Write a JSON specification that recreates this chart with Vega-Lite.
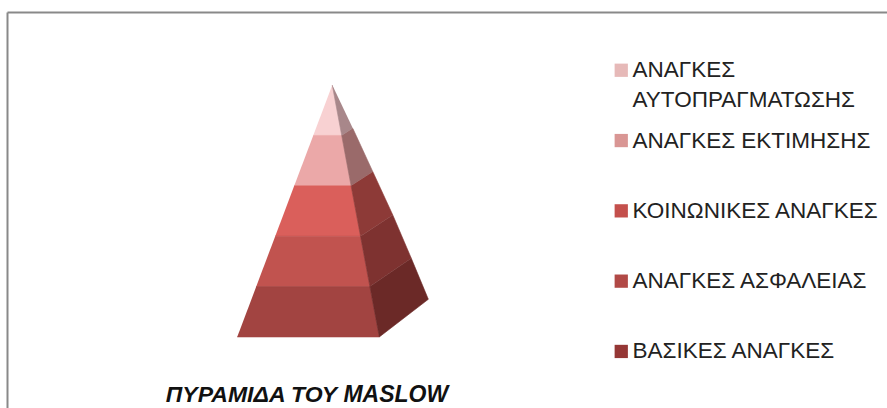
{
  "$schema": "https://vega.github.io/schema/vega-lite/v6.json",
  "width": 880,
  "height": 396,
  "autosize": {"type": "none"},
  "padding": {"left": 7, "top": 12, "right": 0, "bottom": 0},
  "background": "white",
  "config": {"view": {"stroke": null}},
  "title": {
    "text": "ΠΥΡΑΜΙΔΑ ΤΟΥ MASLOW",
    "orient": "bottom",
    "anchor": "middle",
    "dx": -140,
    "offset": -6,
    "baseline": "alphabetic",
    "font": "Liberation Sans",
    "fontSize": 23,
    "fontWeight": "bold",
    "fontStyle": "italic",
    "color": "#111111"
  },
  "datasets": {
    "shape": [
      {"need": "ΑΝΑΓΚΕΣ ΑΥΤΟΠΡΑΓΜΑΤΩΣΗΣ", "part": "F5", "i": 0, "u": 0, "v": 5},
      {"need": "ΑΝΑΓΚΕΣ ΑΥΤΟΠΡΑΓΜΑΤΩΣΗΣ", "part": "F5", "i": 1, "u": 0.187, "v": 4},
      {"need": "ΑΝΑΓΚΕΣ ΑΥΤΟΠΡΑΓΜΑΤΩΣΗΣ", "part": "F5", "i": 2, "u": -0.377, "v": 4},
      {"need": "ΑΝΑΓΚΕΣ ΕΚΤΙΜΗΣΗΣ", "part": "F4", "i": 0, "u": -0.377, "v": 4},
      {"need": "ΑΝΑΓΚΕΣ ΕΚΤΙΜΗΣΗΣ", "part": "F4", "i": 1, "u": 0.187, "v": 4},
      {"need": "ΑΝΑΓΚΕΣ ΕΚΤΙΜΗΣΗΣ", "part": "F4", "i": 2, "u": 0.373, "v": 3},
      {"need": "ΑΝΑΓΚΕΣ ΕΚΤΙΜΗΣΗΣ", "part": "F4", "i": 3, "u": -0.754, "v": 3},
      {"need": "ΚΟΙΝΩΝΙΚΕΣ ΑΝΑΓΚΕΣ", "part": "F3", "i": 0, "u": -0.754, "v": 3},
      {"need": "ΚΟΙΝΩΝΙΚΕΣ ΑΝΑΓΚΕΣ", "part": "F3", "i": 1, "u": 0.373, "v": 3},
      {"need": "ΚΟΙΝΩΝΙΚΕΣ ΑΝΑΓΚΕΣ", "part": "F3", "i": 2, "u": 0.56, "v": 2},
      {"need": "ΚΟΙΝΩΝΙΚΕΣ ΑΝΑΓΚΕΣ", "part": "F3", "i": 3, "u": -1.131, "v": 2},
      {"need": "ΑΝΑΓΚΕΣ ΑΣΦΑΛΕΙΑΣ", "part": "F2", "i": 0, "u": -1.131, "v": 2},
      {"need": "ΑΝΑΓΚΕΣ ΑΣΦΑΛΕΙΑΣ", "part": "F2", "i": 1, "u": 0.56, "v": 2},
      {"need": "ΑΝΑΓΚΕΣ ΑΣΦΑΛΕΙΑΣ", "part": "F2", "i": 2, "u": 0.746, "v": 1},
      {"need": "ΑΝΑΓΚΕΣ ΑΣΦΑΛΕΙΑΣ", "part": "F2", "i": 3, "u": -1.508, "v": 1},
      {"need": "ΒΑΣΙΚΕΣ ΑΝΑΓΚΕΣ", "part": "F1", "i": 0, "u": -1.508, "v": 1},
      {"need": "ΒΑΣΙΚΕΣ ΑΝΑΓΚΕΣ", "part": "F1", "i": 1, "u": 0.746, "v": 1},
      {"need": "ΒΑΣΙΚΕΣ ΑΝΑΓΚΕΣ", "part": "F1", "i": 2, "u": 0.933, "v": 0},
      {"need": "ΒΑΣΙΚΕΣ ΑΝΑΓΚΕΣ", "part": "F1", "i": 3, "u": -1.885, "v": 0},
      {"need": "ΑΝΑΓΚΕΣ ΑΥΤΟΠΡΑΓΜΑΤΩΣΗΣ", "part": "S5", "i": 0, "u": 0, "v": 5},
      {"need": "ΑΝΑΓΚΕΣ ΑΥΤΟΠΡΑΓΜΑΤΩΣΗΣ", "part": "S5", "i": 1, "u": 0.187, "v": 4},
      {"need": "ΑΝΑΓΚΕΣ ΑΥΤΟΠΡΑΓΜΑΤΩΣΗΣ", "part": "S5", "i": 2, "u": 0.407, "v": 4.141},
      {"need": "ΑΝΑΓΚΕΣ ΕΚΤΙΜΗΣΗΣ", "part": "S4", "i": 0, "u": 0.187, "v": 4},
      {"need": "ΑΝΑΓΚΕΣ ΕΚΤΙΜΗΣΗΣ", "part": "S4", "i": 1, "u": 0.373, "v": 3},
      {"need": "ΑΝΑΓΚΕΣ ΕΚΤΙΜΗΣΗΣ", "part": "S4", "i": 2, "u": 0.804, "v": 3.28},
      {"need": "ΑΝΑΓΚΕΣ ΕΚΤΙΜΗΣΗΣ", "part": "S4", "i": 3, "u": 0.407, "v": 4.141},
      {"need": "ΚΟΙΝΩΝΙΚΕΣ ΑΝΑΓΚΕΣ", "part": "S3", "i": 0, "u": 0.373, "v": 3},
      {"need": "ΚΟΙΝΩΝΙΚΕΣ ΑΝΑΓΚΕΣ", "part": "S3", "i": 1, "u": 0.56, "v": 2},
      {"need": "ΚΟΙΝΩΝΙΚΕΣ ΑΝΑΓΚΕΣ", "part": "S3", "i": 2, "u": 1.2, "v": 2.421},
      {"need": "ΚΟΙΝΩΝΙΚΕΣ ΑΝΑΓΚΕΣ", "part": "S3", "i": 3, "u": 0.804, "v": 3.28},
      {"need": "ΑΝΑΓΚΕΣ ΑΣΦΑΛΕΙΑΣ", "part": "S2", "i": 0, "u": 0.56, "v": 2},
      {"need": "ΑΝΑΓΚΕΣ ΑΣΦΑΛΕΙΑΣ", "part": "S2", "i": 1, "u": 0.746, "v": 1},
      {"need": "ΑΝΑΓΚΕΣ ΑΣΦΑΛΕΙΑΣ", "part": "S2", "i": 2, "u": 1.567, "v": 1.562},
      {"need": "ΑΝΑΓΚΕΣ ΑΣΦΑΛΕΙΑΣ", "part": "S2", "i": 3, "u": 1.2, "v": 2.421},
      {"need": "ΒΑΣΙΚΕΣ ΑΝΑΓΚΕΣ", "part": "S1", "i": 0, "u": 0.746, "v": 1},
      {"need": "ΒΑΣΙΚΕΣ ΑΝΑΓΚΕΣ", "part": "S1", "i": 1, "u": 0.933, "v": 0},
      {"need": "ΒΑΣΙΚΕΣ ΑΝΑΓΚΕΣ", "part": "S1", "i": 2, "u": 1.905, "v": 0.748},
      {"need": "ΒΑΣΙΚΕΣ ΑΝΑΓΚΕΣ", "part": "S1", "i": 3, "u": 1.567, "v": 1.562}
    ]
  },
  "data": {"name": "shape"},
  "layer": [
    {
      "mark": {"type": "line", "filled": true, "strokeWidth": 0.6, "strokeJoin": "round"},
      "encoding": {
        "x": {
          "field": "u", "type": "quantitative",
          "scale": {"domain": [-6.45, 11.0], "nice": false, "zero": false},
          "axis": {"orient": "top", "title": null, "labels": false, "ticks": false, "grid": false, "domain": true, "domainColor": "#898989", "domainWidth": 2}
        },
        "y": {
          "field": "v", "type": "quantitative",
          "scale": {"domain": [-1.41, 6.45], "nice": false, "zero": false},
          "axis": {"orient": "left", "title": null, "labels": false, "ticks": false, "grid": false, "domain": true, "domainColor": "#898989", "domainWidth": 2}
        },
        "order": {"field": "i", "type": "quantitative"},
        "fill": {
          "field": "part", "type": "nominal",
          "scale": {
            "domain": ["F5", "F4", "F3", "F2", "F1", "S5", "S4", "S3", "S2", "S1"],
            "range": ["#F8D1D2", "#EBA8A8", "#DA5F5B", "#C1534F", "#A24441", "#A8878A", "#9A6A6A", "#8D3A37", "#7E3230", "#6B2927"]
          },
          "legend": null
        },
        "stroke": {
          "field": "part", "type": "nominal",
          "scale": {
            "domain": ["F5", "F4", "F3", "F2", "F1", "S5", "S4", "S3", "S2", "S1"],
            "range": ["#F8D1D2", "#EBA8A8", "#DA5F5B", "#C1534F", "#A24441", "#A8878A", "#9A6A6A", "#8D3A37", "#7E3230", "#6B2927"]
          },
          "legend": null
        }
      }
    },
    {
      "mark": {"type": "point", "shape": "square", "filled": true, "size": 0, "opacity": 1},
      "encoding": {
        "x": {"field": "u", "type": "quantitative"},
        "y": {"field": "v", "type": "quantitative"},
        "color": {
          "field": "need", "type": "nominal",
          "scale": {
            "domain": ["ΑΝΑΓΚΕΣ ΑΥΤΟΠΡΑΓΜΑΤΩΣΗΣ", "ΑΝΑΓΚΕΣ ΕΚΤΙΜΗΣΗΣ", "ΚΟΙΝΩΝΙΚΕΣ ΑΝΑΓΚΕΣ", "ΑΝΑΓΚΕΣ ΑΣΦΑΛΕΙΑΣ", "ΒΑΣΙΚΕΣ ΑΝΑΓΚΕΣ"],
            "range": ["#E6B9B8", "#D99694", "#C4504C", "#B14946", "#953735"]
          },
          "legend": {
            "title": null,
            "orient": "none",
            "legendX": 603,
            "legendY": 47,
            "padding": 0,
            "gridAlign": "all",
            "rowPadding": 17.3,
            "symbolType": "square",
            "symbolSize": 176,
            "symbolOpacity": 1,
            "symbolStrokeWidth": 0,
            "labelFont": "Liberation Sans",
            "labelFontSize": 22.5,
            "labelColor": "#222222",
            "labelOffset": 0,
            "labelLimit": 0,
            "labelExpr": "datum.label == 'ΑΝΑΓΚΕΣ ΑΥΤΟΠΡΑΓΜΑΤΩΣΗΣ' ? ['ΑΝΑΓΚΕΣ', 'ΑΥΤΟΠΡΑΓΜΑΤΩΣΗΣ'] : datum.label",
            "encode": {"labels": {"update": {"lineHeight": {"value": 30}}}}
          }
        }
      }
    }
  ]
}
